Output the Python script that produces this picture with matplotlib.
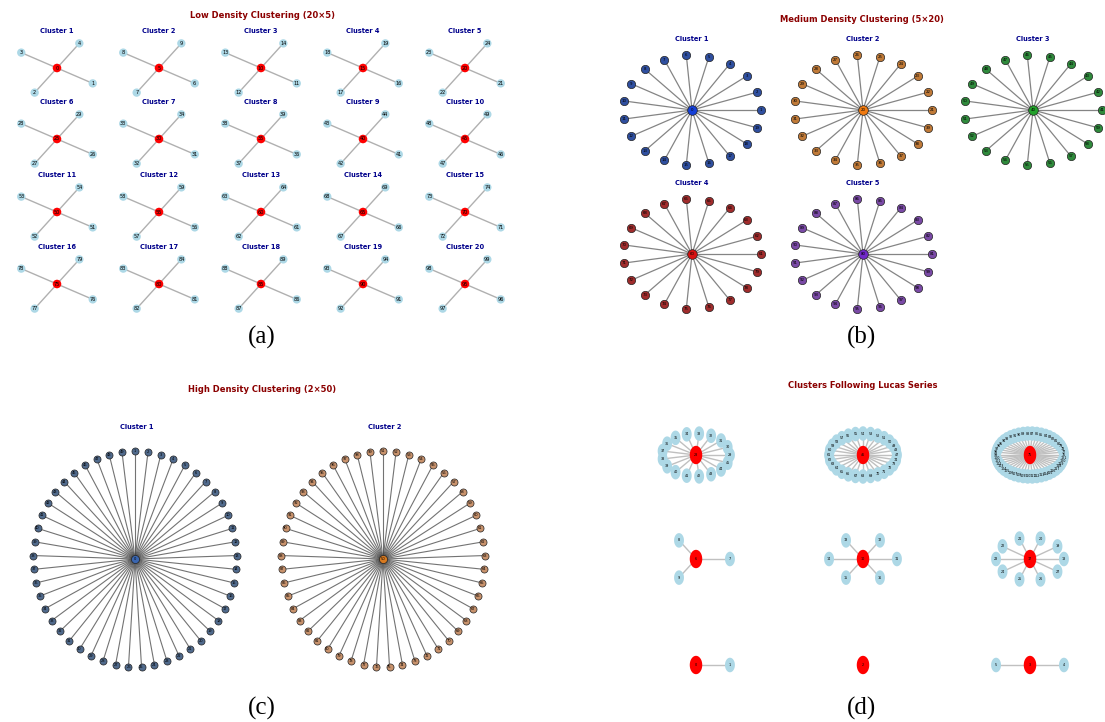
import numpy as np
import matplotlib
matplotlib.use("Agg")
import matplotlib.pyplot as plt
from matplotlib.path import Path

# ---- data ----
low_n_clusters = 20
low_cluster_size = 5
medium_n_clusters = 5
medium_cluster_size = 20
high_n_clusters = 2
high_cluster_size = 50
lucas_sizes = [2, 1, 3, 4, 7, 11, 18, 29, 47]

panel_titles = ["Low Density Clustering (20×5)", "Medium Density Clustering (5×20)",
                "High Density Clustering (2×50)", "Clusters Following Lucas Series"]
captions = ["(a)", "(b)", "(c)", "(d)"]

medium_center_colors = ["#1540d8", "#f07a10", "#22a02a", "#d81010", "#7028c8"]
medium_leaf_colors = ["#2f4f9f", "#c07a38", "#2f8a3c", "#a02c2c", "#7a4aa6"]
high_center_colors = ["#3a66b0", "#d87a20"]
high_leaf_colors = ["#506a8c", "#c8926c"]

W, H = 1105, 722
fig = plt.figure(figsize=(W / 100, H / 100), dpi=100)


def px_axes(cx, cy, w, h, xr, yr):
    ax = fig.add_axes([(cx - w / 2) / W, 1 - (cy + h / 2) / H, w / W, h / H])
    ax.set_xlim(-xr, xr)
    ax.set_ylim(-yr, yr)
    ax.set_axis_off()
    return ax


def px_text(x, y, s, **kw):
    fig.text(x / W, 1 - y / H, s, ha="center", va="center", **kw)


def draw_star(ax, center_id, leaf_ids, angles, c_color, l_color, c_size, l_size,
              edge_color, edge_lw, font, marker="o", node_edge=None, edge_alpha=1.0):
    xs = np.cos(np.radians(angles))
    ys = np.sin(np.radians(angles))
    for x, y in zip(xs, ys):
        ax.plot([0, x], [0, y], color=edge_color, lw=edge_lw, alpha=edge_alpha, zorder=1)
    if len(leaf_ids):
        ax.scatter(xs, ys, s=l_size, c=l_color, marker=marker, zorder=2,
                   edgecolors=node_edge if node_edge else "none", linewidths=0.5)
    ax.scatter([0], [0], s=c_size, c=c_color, marker=marker, zorder=3,
               edgecolors=node_edge if node_edge else "none", linewidths=0.5)
    for i, x, y in zip(leaf_ids, xs, ys):
        ax.text(x, y, str(i), ha="center", va="center", fontsize=font, zorder=4)
    ax.text(0, 0, str(center_id), ha="center", va="center", fontsize=font, zorder=4)


title_kw = dict(color="darkred", fontweight="bold")
sub_kw = dict(color="darkblue", fontweight="bold")

# ---- (a) low density ----
px_text(262, 16, panel_titles[0], fontsize=6, **title_kw)
col_x = [57, 159, 261, 363, 465]
row_y = [68, 139, 212, 284]
low_angles = -32 + np.array([0, -90, 180, 90])
for k in range(low_n_clusters):
    cx, cy = col_x[k % 5], row_y[k // 5]
    ax = px_axes(cx, cy, 102, 72, 1.21, 1.24)
    base = k * low_cluster_size
    leaves = list(range(base + 1, base + low_cluster_size))
    draw_star(ax, base, leaves, low_angles, "red", "lightblue", 38, 36,
              "#b0b0b0", 1.0, 3.6)
    px_text(cx, cy - 37, f"Cluster {k + 1}", fontsize=4.8, **sub_kw)

# ---- (b) medium density ----
px_text(862, 19, panel_titles[1], fontsize=6, **title_kw)
med_centers = [(692, 110), (863, 110), (1033, 110), (692, 254), (863, 254)]
n_leaf = medium_cluster_size - 1
med_angles = np.arange(n_leaf) * 360 / n_leaf
for k in range(medium_n_clusters):
    cx, cy = med_centers[k]
    ax = px_axes(cx, cy, 170, 140, 1.23, 1.27)
    base = k * medium_cluster_size
    leaves = list(range(base + 1, base + medium_cluster_size))
    draw_star(ax, base, leaves, med_angles, medium_center_colors[k], medium_leaf_colors[k],
              48, 36, "#666666", 0.9, 2.8, node_edge="#222222", edge_alpha=0.8)
    px_text(cx, cy - 71, f"Cluster {k + 1}", fontsize=4.8, **sub_kw)

# ---- (c) high density ----
px_text(262, 389, panel_titles[2], fontsize=6, **title_kw)
high_centers = [(135, 559), (383, 559)]
n_leaf = high_cluster_size - 1
high_angles = 90 - np.arange(n_leaf) * 360 / n_leaf
for k in range(high_n_clusters):
    cx, cy = high_centers[k]
    ax = px_axes(cx, cy, 240, 250, 1.18, 1.16)
    base = k * high_cluster_size
    leaves = list(range(base + 1, base + high_cluster_size))
    draw_star(ax, base, leaves, high_angles, high_center_colors[k], high_leaf_colors[k],
              34, 26, "#444444", 0.8, 2.6, node_edge="#222222", edge_alpha=0.75)
    px_text(cx + 2, 427, f"Cluster {k + 1}", fontsize=4.8, **sub_kw)

# ---- (d) lucas series ----
px_text(863, 385, panel_titles[3], fontsize=6, **title_kw)
t = np.linspace(0, 2 * np.pi, 60)
ellipse = Path(np.column_stack([0.68 * np.cos(t), np.sin(t)]), closed=True)
luc_cols = [696, 863, 1030]
luc_rows = [665, 559, 455]  # bottom row first
node_id = 0
for k, size in enumerate(lucas_sizes):
    cx, cy = luc_cols[k % 3], luc_rows[k // 3]
    ax = px_axes(cx, cy, 167, 104, 2.46, 2.42)
    leaves = list(range(node_id + 1, node_id + size))
    angles = np.arange(size - 1) * 360 / max(size - 1, 1)
    draw_star(ax, node_id, leaves, angles, "red", "lightblue", 175, 110,
              "#c0c0c0", 1.0, 2.4, marker=ellipse)
    node_id += size

# ---- captions ----
for s, (x, y) in zip(captions, [(262, 337), (862, 337), (262, 708), (862, 708)]):
    px_text(x, y, s, fontsize=18, family="Liberation Serif")

fig.savefig("out.png", dpi=100)
